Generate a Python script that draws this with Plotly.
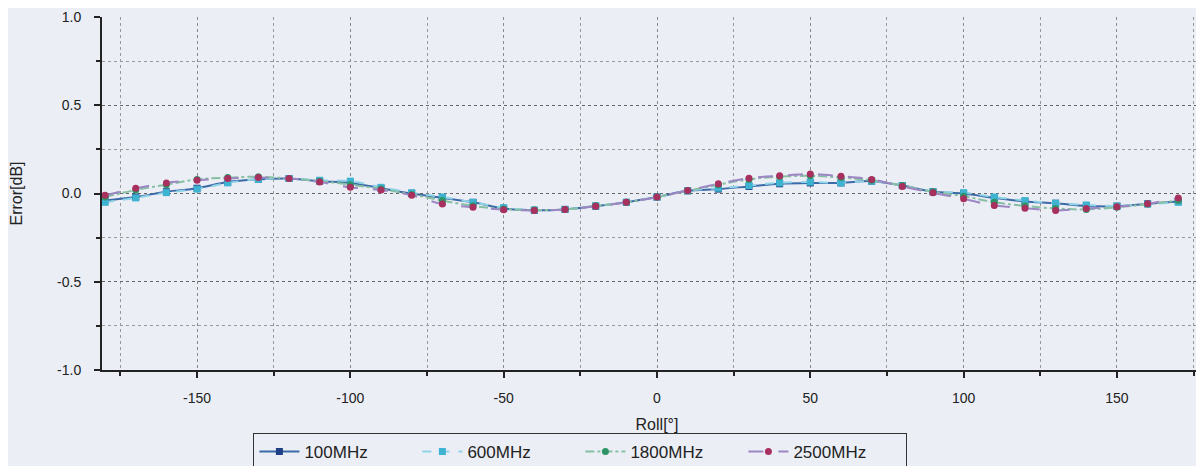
import plotly.graph_objects as go

roll = [-180, -170, -160, -150, -140, -130, -120, -110, -100, -90, -80, -70,
        -60, -50, -40, -30, -20, -10, 0, 10, 20, 30, 40, 50, 60, 70, 80, 90,
        100, 110, 120, 130, 140, 150, 160, 170]

err_100 = [-0.04, -0.02, 0.01, 0.03, 0.065, 0.08, 0.085, 0.07, 0.06, 0.03, 0.0, -0.025,
           -0.05, -0.085, -0.095, -0.09, -0.072, -0.05, -0.02, 0.015, 0.025, 0.04, 0.055, 0.06,
           0.06, 0.07, 0.045, 0.01, 0.0, -0.025, -0.045, -0.055, -0.07, -0.072, -0.058, -0.045]
err_600 = [-0.05, -0.025, 0.005, 0.025, 0.06, 0.08, 0.085, 0.075, 0.07, 0.035, 0.005, -0.02,
           -0.05, -0.08, -0.094, -0.09, -0.07, -0.05, -0.02, 0.015, 0.03, 0.045, 0.06, 0.065,
           0.06, 0.07, 0.045, 0.01, 0.005, -0.02, -0.04, -0.055, -0.065, -0.07, -0.06, -0.05]
err_1800 = [-0.02, 0.02, 0.05, 0.08, 0.09, 0.095, 0.085, 0.07, 0.05, 0.025, -0.005, -0.04,
            -0.07, -0.088, -0.094, -0.09, -0.07, -0.05, -0.02, 0.015, 0.05, 0.08, 0.095, 0.1,
            0.09, 0.075, 0.045, 0.01, -0.015, -0.05, -0.07, -0.085, -0.09, -0.078, -0.06, -0.04]
err_2500 = [-0.01, 0.03, 0.06, 0.075, 0.085, 0.09, 0.085, 0.065, 0.035, 0.02, -0.01, -0.06,
            -0.078, -0.092, -0.096, -0.09, -0.072, -0.05, -0.02, 0.017, 0.055, 0.087, 0.10, 0.11,
            0.098, 0.08, 0.04, 0.004, -0.03, -0.068, -0.083, -0.096, -0.085, -0.075, -0.058, -0.025]

x_tickvals = [-150, -100, -50, 0, 50, 100, 150]
x_ticktext = ["-150", "-100", "-50", "0", "50", "100", "150"]
y_tickvals = [-1.0, -0.5, 0.0, 0.5, 1.0]
y_ticktext = ["-1.0", "-0.5", "0.0", "0.5", "1.0"]

series = [
    ("100MHz", err_100, "#3b6aa8", "#1f3f86", "square", "solid"),
    ("600MHz", err_600, "#8fd3e6", "#3fb4d2", "square", "dash"),
    ("1800MHz", err_1800, "#86bfa2", "#2e9466", "circle", "dashdot"),
    ("2500MHz", err_2500, "#9c86c4", "#a8305e", "circle", "longdash"),
]

fig = go.Figure()
for name, ys, lc, mc, sym, dash in series:
    fig.add_trace(go.Scatter(
        x=roll, y=ys, name=name, mode="lines+markers",
        line=dict(color=lc, width=2, dash=dash, shape="spline"),
        marker=dict(color=mc, size=7, symbol=sym),
    ))

bg = "#eceef5"
fig.update_layout(
    width=1204, height=466,
    paper_bgcolor=bg, plot_bgcolor=bg,
    margin=dict(l=94, r=0, t=9, b=104),
    font=dict(family="Liberation Sans, Arial, sans-serif", color="#222"),
    showlegend=True,
    legend=dict(
        orientation="h", x=0.431, xanchor="center", y=-0.178, yanchor="top",
        bgcolor=bg, bordercolor="#333", borderwidth=1,
        font=dict(size=17, color="#222"),
        entrywidth=108, entrywidthmode="pixels",
        tracegroupgap=0, itemwidth=40,
    ),
)
fig.update_xaxes(
    range=[-181, 181], tickvals=x_tickvals, ticktext=x_ticktext,
    showline=True, linecolor="#222", linewidth=2,
    ticks="outside", ticklen=6, tickwidth=1.5, tickcolor="#222",
    tickfont=dict(size=14), ticklabelstandoff=8,
    showgrid=True, gridcolor="#8a8a8a", griddash="dot", gridwidth=1,
    minor=dict(dtick=25, tick0=0, ticks="outside", ticklen=4, tickcolor="#222",
               showgrid=True, gridcolor="#9a9a9a", griddash="dot"),
    zeroline=False,
    title=dict(text="Roll[°]", font=dict(size=16), standoff=14),
)
fig.update_yaxes(
    range=[-1, 1], tickvals=y_tickvals, ticktext=y_ticktext,
    showline=True, linecolor="#222", linewidth=2,
    ticks="outside", ticklen=6, tickwidth=1.5, tickcolor="#222",
    tickfont=dict(size=14), ticklabelstandoff=10,
    showgrid=True, gridcolor="#666", griddash="dot", gridwidth=1,
    minor=dict(dtick=0.25, tick0=0, ticks="outside", ticklen=4, tickcolor="#222",
               showgrid=True, gridcolor="#999", griddash="dot"),
    zeroline=False,
    title=dict(text="Error[dB]", font=dict(size=16), standoff=32),
)

fig.write_html("out.html")
